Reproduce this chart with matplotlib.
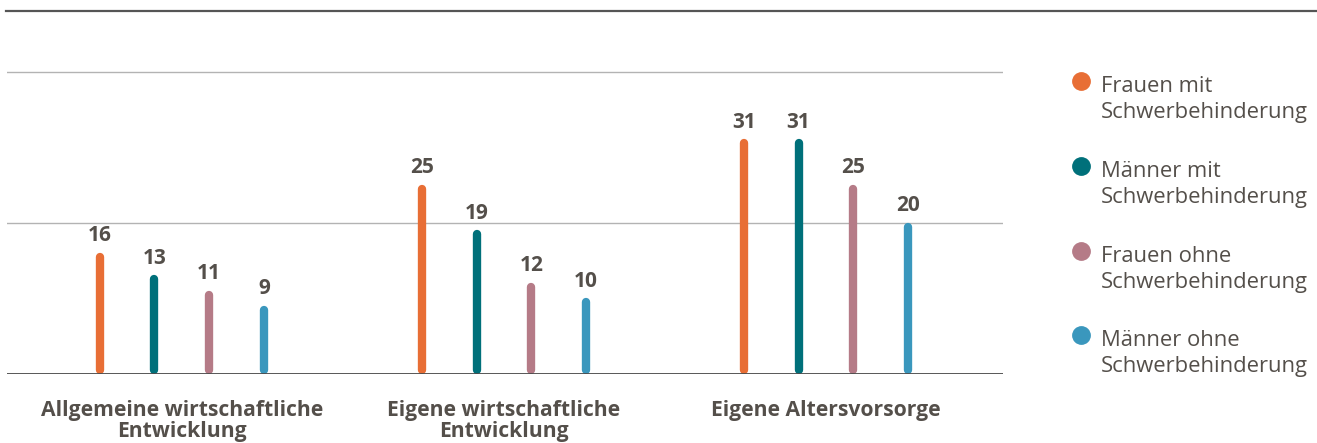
import matplotlib
matplotlib.use("Agg")
import matplotlib.pyplot as plt
from matplotlib.lines import Line2D

plt.rcParams['font.family'] = ['Open Sans', 'DejaVu Sans']

# data
categories = ["Allgemeine wirtschaftliche\nEntwicklung",
              "Eigene wirtschaftliche\nEntwicklung",
              "Eigene Altersvorsorge"]
series_names = ["Frauen mit\nSchwerbehinderung",
                "Männer mit\nSchwerbehinderung",
                "Frauen ohne\nSchwerbehinderung",
                "Männer ohne\nSchwerbehinderung"]
frauen_mit = [16, 25, 31]
maenner_mit = [13, 19, 31]
frauen_ohne = [11, 12, 25]
maenner_ohne = [9, 10, 20]
gridlines = [20, 40]

series = [frauen_mit, maenner_mit, frauen_ohne, maenner_ohne]
colors = ["#E86E35", "#00707A", "#B57B87", "#3A97BD"]
text_col = "#544f4a"

W, H = 1317, 443
fig = plt.figure(figsize=(W / 100, H / 100), dpi=100)
# axes: x 7..1003 px, y 11..374 px
ax = fig.add_axes([7 / W, (H - 374) / H, (1003 - 7) / W, (374 - 11) / H])
ax.set_xlim(-0.543, 2.55)
ax.set_ylim(0, 48)
ax.axis("off")

for g in gridlines:
    ax.axhline(g, color="#b3b3b3", lw=1.0, zorder=0)
ax.axhline(0, color="#4a4a4a", lw=1.3, zorder=3)

# top rule across the whole figure
fig.add_artist(Line2D([6 / W, 1], [1 - 11 / H, 1 - 11 / H],
                      color="#555555", lw=1.6, transform=fig.transFigure))

offsets = [-0.255, -0.085, 0.085, 0.255]
cap = 0.5
for s, vals in enumerate(series):
    for i, v in enumerate(vals):
        x = i + offsets[s]
        ax.plot([x, x], [cap, v - cap], color=colors[s], lw=6.0,
                solid_capstyle="round", zorder=2)
        ax.text(x, v + 0.9, str(v), ha="center", va="bottom",
                fontsize=15, fontweight="bold", color=text_col)

for i, c in enumerate(categories):
    ax.text(i, -3.5, c, ha="center", va="top", fontsize=15.2,
            fontweight="bold", color=text_col, linespacing=1.0)

# legend
leg_y = [81, 166, 251, 335]
for s, name in enumerate(series_names):
    y = 1 - leg_y[s] / H
    fig.add_artist(Line2D([1081 / W], [y], marker="o", markersize=12.5,
                          color=colors[s], transform=fig.transFigure))
    fig.text(1101 / W, 1 - (leg_y[s] - 5) / H, name, ha="left", va="top",
             fontsize=15.8, color=text_col, linespacing=1.3)

fig.savefig("out.png", dpi=100)
